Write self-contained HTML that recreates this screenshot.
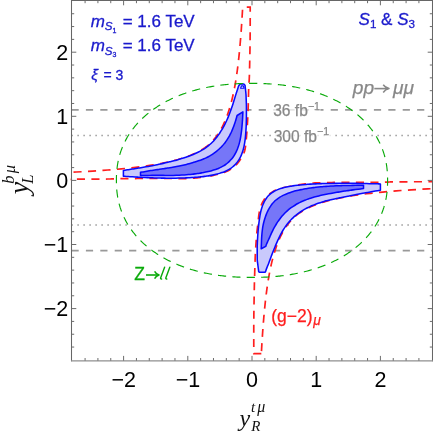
<!DOCTYPE html>
<html><head><meta charset="utf-8"><title>plot</title>
<style>
html,body{margin:0;padding:0;background:#fff;}
body{width:433px;height:434px;overflow:hidden;}
svg{display:block;will-change:transform;}
text{font-family:"Liberation Sans",sans-serif;}
.ser{font-family:"Liberation Serif",serif;font-style:italic;}
.it{font-style:italic;}
.bl{stroke:#1a1acc;stroke-width:0.3;}
</style></head><body>
<svg width="433" height="434" viewBox="0 0 433 434">
<rect width="433" height="434" fill="#fff"/>
<defs><clipPath id="cp"><rect x="70.3" y="0.5" width="363.4" height="360.2"/></clipPath></defs>
<g clip-path="url(#cp)">
<!-- pp->mumu limits -->
<g stroke="#999" fill="none">
<path d="M71.5 109.8 H432.5 M71.5 250.7 H432.5" stroke-width="1.8" stroke-dasharray="7.2 7.2"/>
<path d="M71.45 135.6 H432.5 M71.45 225.0 H432.5" stroke="#8c8c8c" stroke-width="1.5" stroke-dasharray="1.3 4.7"/>
</g>
<!-- g-2 -->
<g fill="none" stroke="#ff1e1e" stroke-width="1.7" stroke-dasharray="8 6.2">
<path d="M242.66 7.20 L242.35 12.82 L242.03 18.26 L241.69 23.52 L241.35 28.61 L240.99 33.53 L240.62 38.30 L240.24 42.91 L239.84 47.37 L239.44 51.68 L239.01 55.86 L238.58 59.90 L238.13 63.81 L237.66 67.59 L237.18 71.25 L236.69 74.79 L236.17 78.22 L235.64 81.53 L235.09 84.74 L234.53 87.84 L233.94 90.85 L233.34 93.75 L232.71 96.56 L232.06 99.28 L231.39 101.91 L230.70 104.46 L229.99 106.92 L229.25 109.35 L228.49 111.77 L227.70 114.11 L226.89 116.37 L226.04 118.56 L225.17 120.68 L224.27 122.73 L223.34 124.71 L222.38 126.63 L221.39 128.49 L220.36 130.29 L219.30 132.03 L218.21 133.71 L217.07 135.34 L215.90 136.91 L214.69 138.44 L213.44 139.91 L212.15 141.34 L210.81 142.72 L209.43 144.05 L208.00 145.34 L206.53 146.55 L205.00 147.65" stroke-dashoffset="11.7"/>
<path d="M242.66 7.20 L250.20 7.20 L250.20 8.78 L250.20 10.74 L250.20 13.04 L250.20 15.62 L250.20 18.43 L250.19 21.41 L250.19 24.52 L250.18 27.69 L250.17 30.88 L250.15 34.03 L250.13 37.09 L250.10 40.00 L250.06 42.91 L250.02 45.96 L249.97 49.12 L249.91 52.33 L249.85 55.56 L249.79 58.76 L249.72 61.89 L249.66 64.90 L249.59 67.77 L249.52 70.43 L249.46 72.86 L249.40 75.00 L249.34 76.82 L249.28 78.34 L249.22 79.60 L249.16 80.66 L249.10 81.56 L249.04 82.36 L248.98 83.10 L248.92 83.83 L248.86 84.61 L248.81 85.48 L248.75 86.50 L248.70 87.70 L248.65 89.06 L248.61 90.49 L248.57 91.99 L248.53 93.54 L248.50 95.13 L248.46 96.76 L248.43 98.40 L248.39 100.06 L248.35 101.72 L248.30 103.37 L248.26 105.00 L248.20 106.60 L248.14 108.17 L248.08 109.73 L248.03 111.28 L247.97 112.83 L247.90 114.38 L247.84 115.93 L247.77 117.49 L247.69 119.07 L247.60 120.66 L247.51 122.28 L247.41 123.93 L247.30 125.60 L247.18 127.35 L247.05 129.21 L246.91 131.14 L246.77 133.12 L246.61 135.11 L246.46 137.10 L246.29 139.05 L246.12 140.93 L245.95 142.71 L245.77 144.37 L245.59 145.87 L245.40 147.20 L245.22 148.33 L245.04 149.29 L244.86 150.11 L244.68 150.80 L244.50 151.40 L244.31 151.93 L244.10 152.41 L243.89 152.87 L243.65 153.34 L243.39 153.83 L243.11 154.38 L242.80 155.00 L242.46 155.68 L242.10 156.39 L241.71 157.11 L241.30 157.84 L240.87 158.57 L240.43 159.30 L239.98 160.02 L239.51 160.73 L239.04 161.42 L238.56 162.08 L238.08 162.71 L237.60 163.30 L237.11 163.86 L236.61 164.39 L236.10 164.90 L235.58 165.39 L235.05 165.86 L234.52 166.31 L233.98 166.74 L233.44 167.16 L232.90 167.56 L232.36 167.95 L231.83 168.33 L231.30 168.70 L230.80 169.05 L230.34 169.38 L229.90 169.68 L229.48 169.97 L229.05 170.24 L228.62 170.51 L228.16 170.76 L227.66 171.02 L227.10 171.28 L226.48 171.54 L225.79 171.81 L225.00 172.10 L224.10 172.40 L223.10 172.72 L222.02 173.05 L220.86 173.39 L219.65 173.72 L218.41 174.06 L217.15 174.38 L215.89 174.70 L214.64 175.01 L213.44 175.30 L212.28 175.56 L211.20 175.80 L210.18 176.01 L209.20 176.21 L208.24 176.38 L207.31 176.54 L206.40 176.69 L205.51 176.82 L204.61 176.94" stroke-dashoffset="10.1"/>
<path d="M261.34 353.70 L261.65 348.08 L261.97 342.64 L262.31 337.38 L262.65 332.29 L263.01 327.37 L263.38 322.60 L263.76 317.99 L264.16 313.53 L264.56 309.22 L264.99 305.04 L265.42 301.00 L265.87 297.09 L266.34 293.31 L266.82 289.65 L267.31 286.11 L267.83 282.68 L268.36 279.37 L268.91 276.16 L269.47 273.06 L270.06 270.05 L270.66 267.15 L271.29 264.34 L271.94 261.62 L272.61 258.99 L273.30 256.44 L274.01 253.98 L274.75 251.55 L275.51 249.13 L276.30 246.79 L277.11 244.53 L277.96 242.34 L278.83 240.22 L279.73 238.17 L280.66 236.19 L281.62 234.27 L282.61 232.41 L283.64 230.61 L284.70 228.87 L285.79 227.19 L286.93 225.56 L288.10 223.99 L289.31 222.46 L290.56 220.99 L291.85 219.56 L293.19 218.18 L294.57 216.85 L296.00 215.56 L297.47 214.35 L299.00 213.25" stroke-dashoffset="11.6"/>
<path d="M261.34 353.70 L253.80 353.70 L253.80 352.12 L253.79 350.16 L253.79 347.86 L253.78 345.28 L253.77 342.47 L253.77 339.49 L253.76 336.38 L253.76 333.21 L253.76 330.02 L253.77 326.87 L253.78 323.81 L253.80 320.90 L253.83 317.99 L253.86 314.94 L253.90 311.78 L253.95 308.57 L254.00 305.34 L254.05 302.14 L254.11 299.01 L254.16 296.00 L254.21 293.13 L254.26 290.47 L254.31 288.04 L254.35 285.90 L254.39 284.08 L254.42 282.56 L254.44 281.30 L254.47 280.24 L254.49 279.34 L254.52 278.54 L254.54 277.80 L254.57 277.07 L254.60 276.29 L254.63 275.42 L254.66 274.40 L254.70 273.20 L254.74 271.84 L254.78 270.41 L254.83 268.91 L254.87 267.36 L254.92 265.77 L254.97 264.14 L255.02 262.50 L255.08 260.84 L255.14 259.18 L255.20 257.53 L255.27 255.90 L255.35 254.30 L255.43 252.70 L255.52 251.06 L255.62 249.40 L255.72 247.73 L255.82 246.06 L255.93 244.39 L256.04 242.75 L256.15 241.15 L256.26 239.59 L256.38 238.09 L256.49 236.65 L256.60 235.30 L256.71 234.03 L256.83 232.82 L256.95 231.67 L257.07 230.57 L257.19 229.52 L257.31 228.51 L257.43 227.53 L257.55 226.58 L257.67 225.65 L257.78 224.73 L257.89 223.81 L258.00 222.90 L258.10 222.00 L258.19 221.12 L258.27 220.26 L258.36 219.43 L258.43 218.61 L258.51 217.81 L258.59 217.03 L258.68 216.26 L258.77 215.51 L258.87 214.76 L258.98 214.03 L259.10 213.30 L259.23 212.59 L259.35 211.90 L259.48 211.23 L259.60 210.58 L259.74 209.94 L259.88 209.31 L260.04 208.68 L260.21 208.06 L260.40 207.43 L260.61 206.80 L260.84 206.15 L261.10 205.50 L261.39 204.83 L261.70 204.13 L262.02 203.43 L262.37 202.71 L262.74 202.00 L263.12 201.29 L263.52 200.58 L263.94 199.90 L264.36 199.23 L264.80 198.59 L265.25 197.97 L265.70 197.40 L266.17 196.86 L266.66 196.34 L267.17 195.85 L267.70 195.38 L268.23 194.93 L268.78 194.49 L269.34 194.08 L269.89 193.68 L270.45 193.29 L271.01 192.92 L271.56 192.55 L272.10 192.20 L272.61 191.86 L273.09 191.55 L273.54 191.26 L273.97 190.99 L274.41 190.72 L274.86 190.48 L275.34 190.23 L275.86 189.99 L276.43 189.75 L277.07 189.51 L277.79 189.26 L278.60 189.00 L279.52 188.73 L280.56 188.45 L281.68 188.17 L282.87 187.88 L284.12 187.60 L285.41 187.31 L286.71 187.03" stroke-dashoffset="0"/>
<g stroke-dasharray="8.1 6.4">
<path d="M70.31 172.32 L76.21 172.02 L81.91 171.71 L87.43 171.40 L92.77 171.07 L97.93 170.73 L102.93 170.38 L107.77 170.02 L112.45 169.64 L116.98 169.26 L121.36 168.86 L125.59 168.45 L129.70 168.02 L133.66 167.58 L137.50 167.12 L141.22 166.65 L144.81 166.17 L148.29 165.66 L151.65 165.14 L154.91 164.61 L158.06 164.05 L161.11 163.48 L164.05 162.90 L166.91 162.31 L169.67 161.71 L172.34 161.08 L174.92 160.43 L177.42 159.76 L179.84 159.07 L182.18 158.35 L184.45 157.62 L186.64 156.85 L188.76 156.06 L190.81 155.25 L192.80 154.40 L194.72 153.53 L196.58 152.63 L198.38 151.70 L200.12 150.74 L201.80 149.74 L203.43 148.71 L205.00 147.65" stroke-dashoffset="11.3"/>
<path d="M69.80 179.40 L70.07 179.39 L70.28 179.38 L70.49 179.36 L70.71 179.35 L70.98 179.33 L71.34 179.31 L71.81 179.29 L72.42 179.27 L73.22 179.25 L74.22 179.24 L75.47 179.22 L77.00 179.20 L78.90 179.18 L81.22 179.17 L83.86 179.15 L86.76 179.14 L89.83 179.13 L93.01 179.11 L96.22 179.10 L99.38 179.08 L102.41 179.06 L105.24 179.04 L107.80 179.02 L110.00 179.00 L111.85 178.97 L113.43 178.94 L114.78 178.91 L115.96 178.87 L117.02 178.83 L118.00 178.79 L118.95 178.76 L119.93 178.72 L120.97 178.68 L122.13 178.65 L123.46 178.62 L125.00 178.60 L126.76 178.58 L128.68 178.56 L130.74 178.55 L132.89 178.54 L135.12 178.53 L137.38 178.52 L139.65 178.52 L141.90 178.51 L144.09 178.51 L146.19 178.51 L148.17 178.50 L150.00 178.50 L151.68 178.50 L153.24 178.49 L154.70 178.49 L156.09 178.49 L157.42 178.49 L158.71 178.49 L159.99 178.49 L161.28 178.50 L162.59 178.50 L163.95 178.50 L165.38 178.50 L166.90 178.50 L168.52 178.50 L170.24 178.51 L172.03 178.52 L173.86 178.54 L175.72 178.55 L177.59 178.56 L179.44 178.57 L181.25 178.57 L183.01 178.57 L184.68 178.56 L186.25 178.54 L187.70 178.50 L189.03 178.45 L190.25 178.40 L191.40 178.34 L192.47 178.27 L193.48 178.19 L194.45 178.11 L195.38 178.02 L196.30 177.92 L197.20 177.82 L198.11 177.72 L199.04 177.61 L200.00 177.50 L200.96 177.39 L201.90 177.28 L202.82 177.17 L203.72 177.06 L204.61 176.94" stroke-dashoffset="7.4"/>
<path d="M433.69 188.58 L427.79 188.88 L422.09 189.19 L416.57 189.50 L411.23 189.83 L406.07 190.17 L401.07 190.52 L396.23 190.88 L391.55 191.26 L387.02 191.64 L382.64 192.04 L378.41 192.45 L374.30 192.88 L370.34 193.32 L366.50 193.78 L362.78 194.25 L359.19 194.73 L355.71 195.24 L352.35 195.76 L349.09 196.29 L345.94 196.85 L342.89 197.42 L339.95 198.00 L337.09 198.59 L334.33 199.19 L331.66 199.82 L329.08 200.47 L326.58 201.14 L324.16 201.83 L321.82 202.55 L319.55 203.28 L317.36 204.05 L315.24 204.84 L313.19 205.65 L311.20 206.50 L309.28 207.37 L307.42 208.27 L305.62 209.20 L303.88 210.16 L302.20 211.16 L300.57 212.19 L299.00 213.25" stroke-dashoffset="11.3"/>
<path d="M434.20 181.50 L433.93 181.51 L433.72 181.52 L433.51 181.54 L433.29 181.55 L433.02 181.57 L432.66 181.59 L432.19 181.61 L431.58 181.63 L430.78 181.65 L429.78 181.66 L428.53 181.68 L427.00 181.70 L425.10 181.72 L422.78 181.73 L420.14 181.75 L417.24 181.76 L414.17 181.77 L410.99 181.79 L407.78 181.80 L404.62 181.82 L401.59 181.84 L398.76 181.86 L396.20 181.88 L394.00 181.90 L392.15 181.93 L390.57 181.96 L389.22 181.99 L388.04 182.03 L386.98 182.07 L386.00 182.11 L385.05 182.14 L384.07 182.18 L383.03 182.22 L381.87 182.25 L380.54 182.28 L379.00 182.30 L377.24 182.32 L375.32 182.34 L373.26 182.35 L371.11 182.36 L368.88 182.37 L366.62 182.38 L364.35 182.38 L362.10 182.39 L359.91 182.39 L357.81 182.39 L355.83 182.40 L354.00 182.40 L352.32 182.40 L350.76 182.40 L349.30 182.40 L347.91 182.39 L346.58 182.38 L345.29 182.38 L344.01 182.37 L342.72 182.37 L341.41 182.37 L340.05 182.37 L338.62 182.38 L337.10 182.40 L335.48 182.42 L333.76 182.45 L331.98 182.48 L330.14 182.51 L328.28 182.54 L326.41 182.58 L324.56 182.62 L322.75 182.67 L320.99 182.72 L319.32 182.78 L317.75 182.84 L316.30 182.90 L314.97 182.97 L313.75 183.04 L312.60 183.12 L311.53 183.20 L310.52 183.28 L309.55 183.37 L308.62 183.46 L307.70 183.56 L306.80 183.66 L305.89 183.77 L304.96 183.88 L304.00 184.00 L303.04 184.12 L302.10 184.24 L301.19 184.37 L300.30 184.50 L299.41 184.63 L298.52 184.77 L297.62 184.92 L296.71 185.07 L295.79 185.24 L294.83 185.41 L293.83 185.60 L292.80 185.80 L291.70 186.02 L290.52 186.25 L289.28 186.50 L288.00 186.76 L286.71 187.03" stroke-dashoffset="2.3"/>
</g>
</g>
<!-- blue regions -->
<g stroke="#0808ff" stroke-width="1.55" stroke-linejoin="round">
<path d="M123.40 170.40 C123.82 170.34 125.10 170.16 125.93 170.04 C126.77 169.92 127.58 169.80 128.41 169.67 C129.24 169.55 130.06 169.42 130.89 169.29 C131.72 169.16 132.55 169.04 133.38 168.91 C134.21 168.78 135.04 168.65 135.87 168.51 C136.71 168.38 137.53 168.25 138.36 168.11 C139.20 167.98 140.02 167.84 140.86 167.70 C141.70 167.56 142.55 167.42 143.39 167.28 C144.22 167.13 145.05 166.99 145.87 166.84 C146.70 166.69 147.51 166.54 148.32 166.39 C149.14 166.24 149.94 166.09 150.77 165.93 C151.60 165.77 152.46 165.60 153.30 165.44 C154.13 165.27 154.97 165.11 155.80 164.94 C156.63 164.77 157.45 164.60 158.27 164.43 C159.09 164.26 159.91 164.08 160.72 163.91 C161.54 163.73 162.35 163.55 163.15 163.38 C163.96 163.20 164.76 163.02 165.55 162.84 C166.35 162.65 167.14 162.47 167.92 162.28 C168.71 162.10 169.44 161.92 170.27 161.72 C171.09 161.52 172.00 161.29 172.86 161.08 C173.71 160.86 174.55 160.64 175.39 160.41 C176.22 160.19 177.04 159.96 177.85 159.73 C178.66 159.50 179.46 159.27 180.25 159.03 C181.04 158.80 181.82 158.56 182.59 158.31 C183.36 158.07 184.12 157.82 184.86 157.58 C185.61 157.33 186.31 157.09 187.07 156.82 C187.84 156.55 188.64 156.25 189.44 155.95 C190.23 155.66 191.05 155.34 191.83 155.02 C192.62 154.71 193.39 154.38 194.15 154.06 C194.91 153.73 195.65 153.40 196.38 153.06 C197.12 152.72 197.81 152.39 198.53 152.03 C199.26 151.66 200.02 151.27 200.75 150.87 C201.47 150.47 202.19 150.06 202.88 149.64 C203.58 149.22 204.25 148.79 204.92 148.35 C205.58 147.90 206.21 147.46 206.87 146.97 C207.52 146.49 208.21 145.95 208.85 145.41 C209.50 144.88 210.13 144.33 210.74 143.77 C211.35 143.20 211.94 142.62 212.53 142.03 C213.11 141.44 213.68 140.83 214.23 140.21 C214.79 139.58 215.33 138.94 215.86 138.29 C216.40 137.64 216.93 136.95 217.43 136.29 C217.93 135.63 218.38 135.00 218.85 134.33 C219.32 133.66 219.77 132.99 220.23 132.30 C220.68 131.61 221.12 130.91 221.56 130.19 C221.99 129.48 222.42 128.76 222.84 128.02 C223.26 127.28 223.68 126.52 224.08 125.77 C224.48 125.02 224.86 124.29 225.24 123.54 C225.61 122.78 225.98 122.01 226.35 121.22 C226.71 120.44 227.08 119.60 227.42 118.83 C227.75 118.06 228.06 117.32 228.36 116.59 C228.66 115.86 228.94 115.17 229.22 114.44 C229.50 113.72 229.78 112.99 230.05 112.25 C230.33 111.51 230.60 110.77 230.87 110.02 C231.13 109.27 231.40 108.53 231.66 107.76 C231.93 106.98 232.20 106.18 232.47 105.38 C232.73 104.58 232.99 103.77 233.25 102.95 C233.51 102.13 233.75 101.29 234.01 100.47 C234.26 99.66 234.51 98.85 234.76 98.04 C235.01 97.23 235.26 96.46 235.52 95.63 C235.78 94.80 236.05 93.88 236.32 93.05 C236.59 92.21 236.86 91.42 237.13 90.62 C237.39 89.82 237.66 89.03 237.91 88.24 C238.16 87.45 238.49 86.29 238.60 85.90 L240.20 84.00 L243.80 84.00 L245.00 85.20 C245.05 85.63 245.20 86.93 245.30 87.77 C245.40 88.62 245.49 89.51 245.58 90.29 C245.67 91.06 245.77 91.69 245.84 92.45 C245.91 93.20 245.97 93.96 246.02 94.82 C246.07 95.69 246.10 96.73 246.13 97.62 C246.17 98.50 246.20 99.34 246.23 100.15 C246.26 100.96 246.29 101.73 246.32 102.46 C246.35 103.20 246.38 103.83 246.40 104.59 C246.42 105.35 246.43 106.14 246.44 107.02 C246.44 107.90 246.44 108.96 246.43 109.89 C246.43 110.82 246.43 111.72 246.42 112.59 C246.42 113.47 246.42 114.31 246.41 115.14 C246.41 115.97 246.40 116.73 246.39 117.54 C246.38 118.36 246.37 119.21 246.35 120.02 C246.34 120.83 246.32 121.62 246.30 122.39 C246.28 123.16 246.27 123.83 246.24 124.64 C246.21 125.45 246.17 126.36 246.13 127.23 C246.08 128.09 246.04 128.95 245.98 129.84 C245.92 130.73 245.85 131.70 245.79 132.58 C245.72 133.47 245.65 134.31 245.58 135.13 C245.51 135.95 245.44 136.68 245.35 137.50 C245.27 138.32 245.16 139.21 245.05 140.06 C244.94 140.91 244.81 141.79 244.69 142.60 C244.56 143.42 244.43 144.19 244.29 144.93 C244.15 145.68 244.02 146.35 243.86 147.06 C243.70 147.77 243.57 148.36 243.34 149.19 C243.11 150.02 242.78 151.15 242.48 152.06 C242.18 152.97 241.86 153.82 241.52 154.64 C241.19 155.47 240.85 156.22 240.46 157.00 C240.08 157.77 239.65 158.56 239.22 159.29 C238.78 160.02 238.33 160.71 237.85 161.38 C237.38 162.05 236.90 162.67 236.37 163.29 C235.85 163.91 235.29 164.52 234.70 165.10 C234.12 165.68 233.50 166.23 232.86 166.76 C232.22 167.29 231.55 167.79 230.85 168.27 C230.16 168.75 229.39 169.21 228.69 169.62 C227.99 170.02 227.36 170.36 226.65 170.71 C225.95 171.05 225.22 171.38 224.46 171.70 C223.70 172.01 222.90 172.31 222.10 172.59 C221.30 172.87 220.43 173.14 219.65 173.38 C218.87 173.62 218.19 173.82 217.42 174.02 C216.66 174.22 215.87 174.42 215.06 174.60 C214.24 174.79 213.41 174.96 212.54 175.13 C211.67 175.30 210.77 175.46 209.84 175.61 C208.91 175.77 207.84 175.92 206.94 176.05 C206.05 176.18 205.31 176.28 204.46 176.39 C203.61 176.50 202.67 176.61 201.84 176.70 C201.02 176.79 200.30 176.87 199.53 176.95 C198.75 177.03 198.00 177.10 197.20 177.17 C196.39 177.24 195.56 177.31 194.69 177.37 C193.81 177.43 192.91 177.50 191.96 177.55 C191.01 177.61 189.99 177.67 188.99 177.72 C188.00 177.77 186.85 177.83 185.99 177.86 C185.14 177.90 184.63 177.92 183.88 177.95 C183.13 177.98 182.35 178.01 181.51 178.03 C180.68 178.06 179.80 178.08 178.86 178.10 C177.93 178.12 176.94 178.14 175.89 178.16 C174.84 178.18 173.49 178.20 172.56 178.21 C171.62 178.22 170.97 178.22 170.28 178.22 C169.60 178.22 169.11 178.21 168.46 178.20 C167.81 178.19 167.11 178.19 166.36 178.18 C165.62 178.17 164.82 178.16 163.99 178.14 C163.15 178.13 162.25 178.12 161.35 178.11 C160.44 178.09 159.35 178.08 158.56 178.06 C157.78 178.04 157.32 178.01 156.66 177.98 C156.00 177.96 155.30 177.93 154.59 177.90 C153.87 177.87 153.13 177.84 152.37 177.81 C151.60 177.78 150.82 177.75 150.01 177.71 C149.21 177.68 148.39 177.65 147.55 177.61 C146.72 177.58 145.87 177.55 145.01 177.51 C144.16 177.47 143.32 177.44 142.44 177.40 C141.56 177.36 140.56 177.33 139.73 177.29 C138.90 177.24 138.22 177.19 137.44 177.14 C136.66 177.09 135.86 177.04 135.04 176.99 C134.22 176.94 133.38 176.88 132.53 176.83 C131.67 176.77 130.80 176.72 129.91 176.66 C129.03 176.60 128.12 176.54 127.23 176.48 C126.35 176.42 125.26 176.34 124.62 176.30 C123.98 176.25 123.60 176.22 123.40 176.20 Z" fill="#c9c9fc"/>
<path d="M240.6 88.2 L241.5 85.9 L243.3 85.9 L244.1 88.2 Z" fill="#ececfe" stroke-width="1.1"/>
<path d="M140.50 172.30 C140.92 172.23 142.21 172.03 143.04 171.89 C143.88 171.75 144.68 171.60 145.52 171.46 C146.35 171.31 147.20 171.16 148.07 171.02 C148.95 170.87 149.89 170.72 150.76 170.58 C151.62 170.45 152.41 170.32 153.28 170.19 C154.15 170.06 155.06 169.93 155.97 169.80 C156.89 169.67 157.85 169.55 158.76 169.42 C159.67 169.29 160.63 169.15 161.42 169.03 C162.22 168.91 162.81 168.82 163.51 168.71 C164.21 168.60 164.91 168.49 165.61 168.38 C166.31 168.28 167.00 168.17 167.70 168.06 C168.41 167.95 169.00 167.85 169.82 167.72 C170.64 167.59 171.71 167.41 172.63 167.25 C173.56 167.10 174.46 166.94 175.35 166.77 C176.24 166.61 177.11 166.44 177.97 166.27 C178.83 166.10 179.67 165.93 180.50 165.75 C181.33 165.57 182.14 165.39 182.94 165.21 C183.75 165.03 184.54 164.84 185.32 164.66 C186.10 164.47 186.84 164.28 187.62 164.08 C188.41 163.88 189.20 163.68 190.01 163.46 C190.82 163.24 191.67 163.01 192.48 162.77 C193.29 162.54 194.08 162.31 194.87 162.07 C195.65 161.83 196.42 161.58 197.17 161.34 C197.93 161.09 198.64 160.85 199.39 160.58 C200.14 160.31 200.92 160.02 201.68 159.73 C202.43 159.44 203.20 159.13 203.93 158.81 C204.66 158.50 205.33 158.20 206.07 157.85 C206.80 157.50 207.59 157.11 208.34 156.71 C209.10 156.31 209.87 155.88 210.60 155.44 C211.33 155.01 212.03 154.56 212.73 154.10 C213.43 153.64 214.10 153.17 214.78 152.67 C215.45 152.17 216.12 151.65 216.77 151.12 C217.42 150.59 218.05 150.05 218.67 149.50 C219.28 148.94 219.88 148.38 220.47 147.79 C221.06 147.21 221.63 146.62 222.19 146.01 C222.75 145.40 223.30 144.77 223.83 144.13 C224.36 143.49 224.88 142.84 225.38 142.17 C225.89 141.50 226.38 140.81 226.85 140.10 C227.33 139.39 227.81 138.65 228.24 137.92 C228.68 137.20 229.10 136.47 229.49 135.76 C229.88 135.04 230.23 134.37 230.58 133.66 C230.94 132.94 231.28 132.21 231.62 131.46 C231.96 130.71 232.29 129.93 232.61 129.16 C232.93 128.38 233.23 127.58 233.52 126.80 C233.80 126.03 234.07 125.29 234.33 124.52 C234.60 123.75 234.87 122.97 235.13 122.18 C235.38 121.39 235.64 120.60 235.89 119.78 C236.14 118.97 236.42 118.00 236.62 117.28 C236.82 116.57 237.02 115.80 237.10 115.50 L242.90 111.90 C242.88 112.33 242.82 113.65 242.78 114.51 C242.74 115.36 242.70 116.20 242.66 117.02 C242.61 117.84 242.58 118.58 242.53 119.41 C242.48 120.25 242.41 121.15 242.34 122.02 C242.28 122.89 242.21 123.78 242.14 124.62 C242.07 125.47 242.00 126.30 241.93 127.11 C241.86 127.92 241.79 128.66 241.70 129.48 C241.62 130.30 241.50 131.19 241.39 132.00 C241.29 132.82 241.18 133.62 241.07 134.39 C240.96 135.17 240.86 135.88 240.73 136.65 C240.61 137.41 240.48 138.16 240.31 138.99 C240.15 139.82 239.93 140.79 239.72 141.64 C239.52 142.49 239.31 143.30 239.09 144.09 C238.87 144.87 238.67 145.58 238.42 146.35 C238.16 147.12 237.88 147.93 237.56 148.74 C237.24 149.54 236.87 150.41 236.51 151.19 C236.14 151.98 235.77 152.72 235.38 153.45 C234.98 154.18 234.57 154.88 234.12 155.58 C233.67 156.28 233.17 157.01 232.66 157.68 C232.16 158.35 231.64 158.99 231.09 159.60 C230.55 160.22 229.99 160.80 229.41 161.37 C228.82 161.94 228.21 162.48 227.58 163.00 C226.95 163.52 226.29 164.02 225.61 164.49 C224.93 164.97 224.22 165.42 223.48 165.86 C222.75 166.30 221.95 166.72 221.18 167.11 C220.41 167.49 219.60 167.86 218.87 168.18 C218.14 168.50 217.52 168.75 216.81 169.02 C216.10 169.29 215.36 169.55 214.60 169.80 C213.85 170.05 213.06 170.29 212.25 170.52 C211.44 170.75 210.61 170.98 209.74 171.19 C208.88 171.41 207.92 171.63 207.07 171.81 C206.22 172.00 205.48 172.16 204.64 172.32 C203.81 172.49 202.90 172.65 202.08 172.80 C201.26 172.94 200.53 173.07 199.74 173.19 C198.96 173.32 198.19 173.44 197.38 173.55 C196.56 173.67 195.73 173.78 194.87 173.89 C194.00 174.00 193.12 174.11 192.20 174.21 C191.28 174.31 190.30 174.41 189.34 174.50 C188.38 174.59 187.31 174.69 186.46 174.76 C185.61 174.83 185.02 174.87 184.24 174.92 C183.47 174.98 182.68 175.03 181.84 175.08 C181.00 175.12 180.12 175.17 179.20 175.21 C178.29 175.26 177.33 175.30 176.33 175.34 C175.32 175.38 174.07 175.43 173.18 175.45 C172.28 175.47 171.61 175.48 170.94 175.48 C170.27 175.48 169.76 175.47 169.14 175.46 C168.52 175.46 167.87 175.45 167.21 175.44 C166.55 175.43 165.86 175.42 165.18 175.41 C164.49 175.41 163.79 175.40 163.09 175.39 C162.38 175.38 161.75 175.37 160.93 175.37 C160.11 175.36 159.11 175.37 158.17 175.37 C157.22 175.37 156.23 175.37 155.27 175.37 C154.31 175.37 153.35 175.38 152.43 175.38 C151.50 175.39 150.56 175.39 149.70 175.40 C148.85 175.40 148.12 175.40 147.31 175.40 C146.49 175.40 145.66 175.40 144.81 175.40 C143.97 175.40 142.96 175.40 142.24 175.40 C141.52 175.40 140.79 175.40 140.50 175.40 Z" fill="#7676f8"/>
<path d="M258.70 271.60 C258.64 271.16 258.47 269.84 258.36 268.97 C258.25 268.11 258.14 267.22 258.04 266.38 C257.93 265.55 257.83 264.68 257.73 263.96 C257.64 263.25 257.55 262.68 257.48 262.11 C257.41 261.53 257.33 261.29 257.29 260.51 C257.25 259.73 257.26 258.39 257.24 257.43 C257.23 256.47 257.23 255.60 257.22 254.73 C257.22 253.87 257.21 253.04 257.21 252.24 C257.20 251.43 257.20 250.65 257.20 249.91 C257.20 249.17 257.19 248.60 257.20 247.78 C257.21 246.97 257.24 246.00 257.27 245.04 C257.31 244.07 257.36 242.97 257.40 242.00 C257.45 241.03 257.49 240.10 257.54 239.20 C257.59 238.29 257.64 237.43 257.69 236.59 C257.75 235.74 257.80 234.94 257.85 234.14 C257.91 233.34 257.96 232.63 258.03 231.78 C258.10 230.93 258.19 229.93 258.27 229.04 C258.35 228.15 258.43 227.31 258.52 226.44 C258.61 225.58 258.71 224.70 258.81 223.84 C258.91 222.97 259.02 222.08 259.13 221.24 C259.24 220.40 259.35 219.58 259.47 218.80 C259.58 218.01 259.70 217.24 259.82 216.51 C259.94 215.77 260.06 215.10 260.20 214.37 C260.34 213.63 260.47 212.95 260.66 212.11 C260.86 211.27 261.13 210.21 261.38 209.32 C261.63 208.44 261.89 207.60 262.16 206.79 C262.44 205.98 262.72 205.22 263.01 204.48 C263.31 203.75 263.57 203.12 263.93 202.38 C264.30 201.64 264.75 200.79 265.19 200.05 C265.63 199.32 266.09 198.62 266.58 197.97 C267.07 197.31 267.57 196.69 268.11 196.10 C268.65 195.50 269.21 194.95 269.80 194.41 C270.40 193.88 271.03 193.37 271.69 192.89 C272.35 192.42 273.05 191.97 273.78 191.54 C274.52 191.12 275.29 190.71 276.10 190.34 C276.90 189.96 277.84 189.59 278.59 189.29 C279.35 189.00 279.92 188.80 280.62 188.56 C281.32 188.33 282.05 188.11 282.82 187.90 C283.58 187.69 284.37 187.49 285.20 187.29 C286.03 187.10 286.88 186.91 287.78 186.74 C288.67 186.56 289.74 186.37 290.57 186.23 C291.41 186.08 292.03 185.99 292.78 185.87 C293.53 185.76 294.28 185.65 295.07 185.54 C295.86 185.44 296.68 185.34 297.52 185.24 C298.36 185.14 299.23 185.04 300.13 184.95 C301.03 184.86 301.95 184.77 302.92 184.69 C303.88 184.60 305.04 184.51 305.90 184.44 C306.77 184.37 307.34 184.33 308.09 184.28 C308.84 184.23 309.60 184.18 310.40 184.13 C311.20 184.08 312.02 184.03 312.87 183.99 C313.72 183.94 314.60 183.90 315.52 183.86 C316.43 183.81 317.41 183.77 318.35 183.73 C319.29 183.70 320.37 183.66 321.15 183.63 C321.93 183.61 322.38 183.60 323.03 183.58 C323.68 183.57 324.34 183.55 325.03 183.54 C325.71 183.53 326.42 183.51 327.14 183.50 C327.87 183.49 328.61 183.47 329.38 183.46 C330.14 183.45 330.92 183.44 331.72 183.43 C332.52 183.41 333.34 183.40 334.18 183.39 C335.02 183.38 335.88 183.37 336.76 183.36 C337.65 183.35 338.55 183.34 339.48 183.33 C340.41 183.32 341.36 183.31 342.35 183.30 C343.34 183.29 344.35 183.29 345.40 183.28 C346.45 183.27 347.58 183.26 348.65 183.26 C349.71 183.25 350.97 183.24 351.79 183.25 C352.61 183.25 352.95 183.28 353.57 183.29 C354.18 183.30 354.82 183.32 355.47 183.33 C356.12 183.35 356.80 183.36 357.49 183.38 C358.17 183.39 358.87 183.41 359.58 183.42 C360.29 183.44 360.99 183.46 361.75 183.47 C362.52 183.49 363.35 183.51 364.18 183.53 C365.01 183.55 365.87 183.57 366.73 183.59 C367.60 183.61 368.48 183.63 369.37 183.65 C370.26 183.67 371.16 183.69 372.07 183.71 C372.98 183.73 373.90 183.75 374.82 183.77 C375.75 183.79 376.69 183.82 377.62 183.84 C378.55 183.86 379.94 183.89 380.40 183.90 L380.40 190.30 C379.97 190.36 378.65 190.56 377.79 190.69 C376.94 190.82 376.09 190.96 375.25 191.10 C374.42 191.23 373.60 191.37 372.78 191.52 C371.95 191.66 371.14 191.81 370.32 191.95 C369.50 192.10 368.68 192.25 367.85 192.40 C367.02 192.55 366.18 192.70 365.34 192.86 C364.49 193.01 363.63 193.16 362.79 193.31 C361.94 193.47 361.09 193.62 360.24 193.78 C359.40 193.93 358.56 194.09 357.72 194.25 C356.88 194.41 356.04 194.58 355.21 194.74 C354.37 194.90 353.54 195.07 352.71 195.23 C351.89 195.39 351.09 195.56 350.27 195.72 C349.46 195.88 348.64 196.05 347.82 196.21 C347.00 196.38 346.18 196.54 345.36 196.71 C344.54 196.88 343.72 197.04 342.90 197.21 C342.08 197.38 341.26 197.55 340.45 197.71 C339.63 197.88 338.80 198.05 337.99 198.22 C337.19 198.39 336.41 198.55 335.62 198.72 C334.84 198.89 334.06 199.05 333.28 199.22 C332.51 199.39 331.74 199.56 330.98 199.73 C330.22 199.90 329.47 200.07 328.73 200.25 C327.99 200.42 327.31 200.59 326.55 200.78 C325.79 200.98 325.02 201.18 324.19 201.41 C323.37 201.63 322.45 201.90 321.61 202.15 C320.77 202.41 319.95 202.67 319.15 202.94 C318.35 203.20 317.56 203.48 316.79 203.76 C316.03 204.03 315.29 204.31 314.54 204.61 C313.79 204.91 313.07 205.21 312.29 205.55 C311.52 205.88 310.68 206.26 309.89 206.63 C309.11 207.00 308.35 207.38 307.59 207.76 C306.84 208.15 306.11 208.54 305.39 208.94 C304.66 209.34 303.97 209.74 303.26 210.17 C302.54 210.61 301.81 211.07 301.10 211.52 C300.40 211.98 299.71 212.45 299.03 212.93 C298.36 213.41 297.69 213.90 297.05 214.40 C296.40 214.90 295.77 215.41 295.14 215.93 C294.51 216.46 293.89 217.00 293.28 217.56 C292.67 218.12 292.07 218.70 291.48 219.29 C290.90 219.88 290.33 220.49 289.77 221.11 C289.21 221.73 288.66 222.37 288.13 223.01 C287.60 223.66 287.08 224.32 286.60 224.97 C286.11 225.62 285.67 226.24 285.22 226.90 C284.77 227.56 284.32 228.23 283.89 228.92 C283.46 229.60 283.03 230.30 282.62 231.01 C282.20 231.72 281.79 232.45 281.39 233.19 C280.98 233.93 280.58 234.69 280.20 235.44 C279.81 236.19 279.43 236.97 279.07 237.71 C278.71 238.45 278.38 239.16 278.03 239.90 C277.69 240.63 277.36 241.38 277.02 242.13 C276.69 242.88 276.36 243.63 276.03 244.39 C275.71 245.15 275.38 245.92 275.06 246.69 C274.74 247.45 274.43 248.21 274.12 248.96 C273.81 249.72 273.51 250.46 273.21 251.21 C272.91 251.95 272.60 252.69 272.31 253.45 C272.02 254.21 271.74 254.99 271.45 255.76 C271.17 256.52 270.90 257.23 270.61 258.04 C270.31 258.85 269.99 259.76 269.68 260.62 C269.37 261.47 269.04 262.36 268.73 263.18 C268.41 264.00 268.08 264.77 267.77 265.56 C267.46 266.34 267.15 267.08 266.85 267.87 C266.55 268.66 266.20 269.68 265.99 270.30 C265.78 270.92 265.67 271.38 265.60 271.60 L264.8 272.3 L259.4 272.3 Z" fill="#c9c9fc"/>
<path d="M261.20 248.80 C261.22 248.36 261.27 247.02 261.30 246.15 C261.33 245.28 261.36 244.43 261.40 243.59 C261.43 242.75 261.46 241.93 261.49 241.12 C261.52 240.30 261.54 239.57 261.58 238.71 C261.63 237.86 261.70 236.84 261.76 235.97 C261.83 235.10 261.89 234.26 261.96 233.47 C262.04 232.68 262.12 231.96 262.20 231.24 C262.29 230.52 262.37 229.83 262.46 229.16 C262.55 228.49 262.61 227.95 262.74 227.22 C262.86 226.48 263.00 225.66 263.20 224.75 C263.39 223.84 263.66 222.71 263.91 221.76 C264.15 220.80 264.41 219.89 264.67 219.01 C264.94 218.13 265.21 217.29 265.50 216.47 C265.78 215.66 266.07 214.89 266.38 214.12 C266.69 213.35 267.02 212.59 267.37 211.84 C267.71 211.09 268.08 210.35 268.45 209.64 C268.83 208.94 269.20 208.27 269.61 207.59 C270.02 206.92 270.44 206.27 270.92 205.60 C271.39 204.93 271.92 204.23 272.46 203.59 C273.00 202.94 273.55 202.33 274.14 201.74 C274.72 201.15 275.33 200.58 275.95 200.04 C276.58 199.51 277.20 199.02 277.86 198.54 C278.53 198.06 279.21 197.60 279.93 197.15 C280.65 196.71 281.45 196.26 282.18 195.88 C282.90 195.49 283.58 195.17 284.29 194.84 C284.99 194.51 285.69 194.21 286.42 193.92 C287.15 193.62 287.91 193.33 288.68 193.05 C289.45 192.77 290.24 192.50 291.01 192.25 C291.79 192.00 292.54 191.76 293.33 191.53 C294.12 191.30 294.93 191.08 295.77 190.86 C296.60 190.64 297.45 190.43 298.34 190.22 C299.22 190.02 300.12 189.82 301.05 189.62 C301.99 189.43 303.09 189.22 303.93 189.06 C304.78 188.91 305.38 188.80 306.14 188.67 C306.89 188.55 307.66 188.42 308.45 188.30 C309.25 188.18 310.08 188.06 310.90 187.95 C311.72 187.84 312.58 187.73 313.39 187.63 C314.20 187.53 314.95 187.44 315.76 187.35 C316.58 187.26 317.41 187.17 318.26 187.08 C319.11 187.00 319.98 186.91 320.88 186.83 C321.78 186.75 322.75 186.67 323.65 186.59 C324.55 186.52 325.47 186.45 326.28 186.39 C327.09 186.33 327.74 186.29 328.51 186.24 C329.27 186.19 330.05 186.14 330.85 186.10 C331.66 186.05 332.48 186.01 333.33 185.96 C334.18 185.92 335.05 185.88 335.95 185.83 C336.85 185.79 337.82 185.75 338.71 185.71 C339.61 185.68 340.53 185.64 341.31 185.62 C342.09 185.59 342.68 185.58 343.39 185.56 C344.09 185.54 344.81 185.53 345.55 185.51 C346.28 185.49 347.03 185.47 347.80 185.46 C348.57 185.44 349.37 185.43 350.19 185.41 C351.00 185.40 351.84 185.38 352.69 185.37 C353.54 185.36 354.41 185.34 355.28 185.33 C356.15 185.32 357.04 185.30 357.93 185.29 C358.83 185.27 359.74 185.26 360.64 185.25 C361.54 185.23 362.85 185.21 363.33 185.20 C363.81 185.19 363.47 185.20 363.50 185.20 L363.50 188.60 C363.04 188.65 361.66 188.80 360.76 188.91 C359.85 189.01 358.97 189.11 358.09 189.22 C357.21 189.33 356.35 189.44 355.49 189.55 C354.63 189.66 353.79 189.78 352.96 189.89 C352.12 190.01 351.30 190.13 350.47 190.25 C349.64 190.37 348.82 190.49 348.00 190.61 C347.17 190.73 346.34 190.85 345.51 190.97 C344.69 191.10 343.86 191.22 343.05 191.35 C342.24 191.47 341.44 191.60 340.63 191.73 C339.81 191.86 339.00 191.99 338.18 192.13 C337.36 192.27 336.53 192.41 335.71 192.55 C334.89 192.69 334.07 192.83 333.27 192.97 C332.46 193.11 331.66 193.26 330.86 193.40 C330.07 193.55 329.28 193.70 328.49 193.84 C327.71 193.99 326.96 194.14 326.17 194.30 C325.39 194.45 324.59 194.61 323.78 194.79 C322.96 194.96 322.09 195.14 321.27 195.33 C320.45 195.51 319.64 195.70 318.85 195.89 C318.05 196.08 317.27 196.27 316.51 196.47 C315.74 196.67 315.02 196.86 314.26 197.07 C313.49 197.29 312.72 197.51 311.92 197.76 C311.12 198.00 310.24 198.28 309.43 198.55 C308.63 198.82 307.84 199.10 307.07 199.38 C306.29 199.67 305.57 199.95 304.81 200.26 C304.04 200.57 303.28 200.89 302.50 201.24 C301.71 201.59 300.89 201.97 300.12 202.35 C299.35 202.73 298.60 203.12 297.86 203.52 C297.12 203.92 296.41 204.32 295.70 204.74 C294.99 205.17 294.30 205.60 293.60 206.05 C292.90 206.51 292.19 206.99 291.50 207.48 C290.82 207.97 290.15 208.47 289.50 208.98 C288.85 209.49 288.21 210.02 287.59 210.56 C286.97 211.09 286.36 211.64 285.77 212.21 C285.17 212.77 284.59 213.35 284.01 213.95 C283.44 214.55 282.88 215.16 282.33 215.79 C281.78 216.42 281.24 217.07 280.73 217.72 C280.21 218.37 279.72 219.02 279.24 219.68 C278.76 220.34 278.30 221.00 277.84 221.67 C277.39 222.35 276.94 223.05 276.51 223.74 C276.08 224.44 275.66 225.13 275.26 225.83 C274.85 226.53 274.46 227.22 274.07 227.93 C273.69 228.65 273.31 229.37 272.94 230.11 C272.57 230.85 272.22 231.62 271.86 232.38 C271.51 233.14 271.16 233.89 270.81 234.67 C270.46 235.45 270.10 236.26 269.74 237.06 C269.39 237.86 269.03 238.67 268.67 239.45 C268.32 240.24 267.96 240.98 267.61 241.75 C267.27 242.51 266.92 243.29 266.60 244.06 C266.28 244.84 265.85 246.01 265.70 246.40 Z" fill="#7676f8"/>
</g>
<!-- Z->ll -->
<path d="M387.60 180.40 L387.60 181.70 L387.58 182.85 L387.56 183.94 L387.52 184.99 L387.48 186.02 L387.43 187.04 L387.37 188.04 L387.30 189.02 L387.22 189.99 L387.13 190.95 L387.03 191.91 L386.92 192.85 L386.81 193.79 L386.68 194.71 L386.54 195.64 L386.40 196.55 L386.25 197.46 L386.08 198.36 L385.91 199.26 L385.73 200.15 L385.53 201.04 L385.33 201.92 L385.12 202.79 L384.90 203.66 L384.67 204.53 L384.44 205.39 L384.19 206.25 L383.93 207.10 L383.67 207.95 L383.39 208.79 L383.11 209.63 L382.82 210.46 L382.51 211.29 L382.20 212.11 L381.88 212.94 L381.55 213.75 L381.21 214.56 L380.87 215.37 L380.51 216.18 L380.14 216.97 L379.77 217.77 L379.39 218.56 L378.99 219.35 L378.59 220.13 L378.18 220.91 L377.76 221.68 L377.34 222.45 L376.90 223.22 L376.45 223.98 L376.00 224.73 L375.54 225.48 L375.06 226.23 L374.58 226.98 L374.09 227.71 L373.60 228.45 L373.09 229.18 L372.58 229.90 L372.05 230.63 L371.52 231.34 L370.98 232.05 L370.43 232.76 L369.87 233.46 L369.31 234.16 L368.73 234.86 L368.15 235.55 L367.56 236.23 L366.96 236.91 L366.35 237.59 L365.73 238.26 L365.11 238.92 L364.48 239.58 L363.84 240.24 L363.19 240.89 L362.53 241.53 L361.87 242.18 L361.19 242.81 L360.51 243.44 L359.82 244.07 L359.13 244.69 L358.42 245.31 L357.71 245.92 L356.99 246.52 L356.26 247.12 L355.53 247.72 L354.78 248.31 L354.03 248.90 L353.27 249.48 L352.51 250.05 L351.73 250.62 L350.95 251.18 L350.16 251.74 L349.37 252.30 L348.56 252.85 L347.75 253.39 L346.94 253.93 L346.11 254.46 L345.28 254.98 L344.44 255.50 L343.59 256.02 L342.74 256.53 L341.87 257.03 L341.01 257.53 L340.13 258.02 L339.25 258.51 L338.36 258.99 L337.46 259.47 L336.56 259.94 L335.65 260.40 L334.73 260.86 L333.81 261.31 L332.88 261.76 L331.94 262.20 L331.00 262.63 L330.05 263.06 L329.09 263.49 L328.13 263.90 L327.16 264.31 L326.18 264.72 L325.20 265.12 L324.21 265.51 L323.21 265.90 L322.21 266.28 L321.20 266.65 L320.19 267.02 L319.17 267.38 L318.14 267.74 L317.11 268.09 L316.07 268.43 L315.03 268.77 L313.97 269.10 L312.92 269.43 L311.85 269.75 L310.78 270.06 L309.71 270.36 L308.63 270.66 L307.54 270.96 L306.45 271.24 L305.35 271.52 L304.24 271.80 L303.13 272.07 L302.01 272.33 L300.89 272.58 L299.76 272.83 L298.62 273.07 L297.48 273.31 L296.33 273.54 L295.18 273.76 L294.02 273.98 L292.86 274.19 L291.68 274.39 L290.51 274.59 L289.32 274.78 L288.13 274.96 L286.93 275.14 L285.73 275.31 L284.52 275.47 L283.30 275.63 L282.08 275.78 L280.85 275.92 L279.61 276.06 L278.36 276.19 L277.11 276.31 L275.85 276.43 L274.58 276.54 L273.30 276.65 L272.01 276.74 L270.71 276.83 L269.40 276.92 L268.08 276.99 L266.75 277.06 L265.41 277.13 L264.05 277.19 L262.67 277.24 L261.28 277.28 L259.86 277.32 L258.42 277.35 L256.94 277.37 L255.42 277.39 L253.82 277.40 L252.00 277.40 L250.18 277.40 L248.58 277.39 L247.06 277.37 L245.58 277.35 L244.14 277.32 L242.72 277.28 L241.33 277.24 L239.95 277.19 L238.59 277.13 L237.25 277.06 L235.92 276.99 L234.60 276.92 L233.29 276.83 L231.99 276.74 L230.70 276.65 L229.42 276.54 L228.15 276.43 L226.89 276.31 L225.64 276.19 L224.39 276.06 L223.15 275.92 L221.92 275.78 L220.70 275.63 L219.48 275.47 L218.27 275.31 L217.07 275.14 L215.87 274.96 L214.68 274.78 L213.49 274.59 L212.32 274.39 L211.14 274.19 L209.98 273.98 L208.82 273.76 L207.67 273.54 L206.52 273.31 L205.38 273.07 L204.24 272.83 L203.11 272.58 L201.99 272.33 L200.87 272.07 L199.76 271.80 L198.65 271.52 L197.55 271.24 L196.46 270.96 L195.37 270.66 L194.29 270.36 L193.22 270.06 L192.15 269.75 L191.08 269.43 L190.03 269.10 L188.97 268.77 L187.93 268.43 L186.89 268.09 L185.86 267.74 L184.83 267.38 L183.81 267.02 L182.80 266.65 L181.79 266.28 L180.79 265.90 L179.79 265.51 L178.80 265.12 L177.82 264.72 L176.84 264.31 L175.87 263.90 L174.91 263.49 L173.95 263.06 L173.00 262.63 L172.06 262.20 L171.12 261.76 L170.19 261.31 L169.27 260.86 L168.35 260.40 L167.44 259.94 L166.54 259.47 L165.64 258.99 L164.75 258.51 L163.87 258.02 L162.99 257.53 L162.13 257.03 L161.26 256.53 L160.41 256.02 L159.56 255.50 L158.72 254.98 L157.89 254.46 L157.06 253.93 L156.25 253.39 L155.44 252.85 L154.63 252.30 L153.84 251.74 L153.05 251.18 L152.27 250.62 L151.49 250.05 L150.73 249.48 L149.97 248.90 L149.22 248.31 L148.47 247.72 L147.74 247.12 L147.01 246.52 L146.29 245.92 L145.58 245.31 L144.87 244.69 L144.18 244.07 L143.49 243.44 L142.81 242.81 L142.13 242.18 L141.47 241.53 L140.81 240.89 L140.16 240.24 L139.52 239.58 L138.89 238.92 L138.27 238.26 L137.65 237.59 L137.04 236.91 L136.44 236.23 L135.85 235.55 L135.27 234.86 L134.69 234.16 L134.13 233.46 L133.57 232.76 L133.02 232.05 L132.48 231.34 L131.95 230.63 L131.42 229.90 L130.91 229.18 L130.40 228.45 L129.91 227.71 L129.42 226.98 L128.94 226.23 L128.46 225.48 L128.00 224.73 L127.55 223.98 L127.10 223.22 L126.66 222.45 L126.24 221.68 L125.82 220.91 L125.41 220.13 L125.01 219.35 L124.61 218.56 L124.23 217.77 L123.86 216.97 L123.49 216.18 L123.13 215.37 L122.79 214.56 L122.45 213.75 L122.12 212.94 L121.80 212.11 L121.49 211.29 L121.18 210.46 L120.89 209.63 L120.61 208.79 L120.33 207.95 L120.07 207.10 L119.81 206.25 L119.56 205.39 L119.33 204.53 L119.10 203.66 L118.88 202.79 L118.67 201.92 L118.47 201.04 L118.27 200.15 L118.09 199.26 L117.92 198.36 L117.75 197.46 L117.60 196.55 L117.46 195.64 L117.32 194.71 L117.19 193.79 L117.08 192.85 L116.97 191.91 L116.87 190.95 L116.78 189.99 L116.70 189.02 L116.63 188.04 L116.57 187.04 L116.52 186.02 L116.48 184.99 L116.44 183.94 L116.42 182.85 L116.40 181.70 L116.40 180.40 L116.40 179.10 L116.42 177.95 L116.44 176.86 L116.48 175.81 L116.52 174.78 L116.57 173.76 L116.63 172.76 L116.70 171.78 L116.78 170.81 L116.87 169.85 L116.97 168.89 L117.08 167.95 L117.19 167.01 L117.32 166.09 L117.46 165.16 L117.60 164.25 L117.75 163.34 L117.92 162.44 L118.09 161.54 L118.27 160.65 L118.47 159.76 L118.67 158.88 L118.88 158.01 L119.10 157.14 L119.33 156.27 L119.56 155.41 L119.81 154.55 L120.07 153.70 L120.33 152.85 L120.61 152.01 L120.89 151.17 L121.18 150.34 L121.49 149.51 L121.80 148.69 L122.12 147.86 L122.45 147.05 L122.79 146.24 L123.13 145.43 L123.49 144.62 L123.86 143.83 L124.23 143.03 L124.61 142.24 L125.01 141.45 L125.41 140.67 L125.82 139.89 L126.24 139.12 L126.66 138.35 L127.10 137.58 L127.55 136.82 L128.00 136.07 L128.46 135.32 L128.94 134.57 L129.42 133.82 L129.91 133.09 L130.40 132.35 L130.91 131.62 L131.42 130.90 L131.95 130.17 L132.48 129.46 L133.02 128.75 L133.57 128.04 L134.13 127.34 L134.69 126.64 L135.27 125.94 L135.85 125.25 L136.44 124.57 L137.04 123.89 L137.65 123.21 L138.27 122.54 L138.89 121.88 L139.52 121.22 L140.16 120.56 L140.81 119.91 L141.47 119.27 L142.13 118.62 L142.81 117.99 L143.49 117.36 L144.18 116.73 L144.87 116.11 L145.58 115.49 L146.29 114.88 L147.01 114.28 L147.74 113.68 L148.47 113.08 L149.22 112.49 L149.97 111.90 L150.73 111.32 L151.49 110.75 L152.27 110.18 L153.05 109.62 L153.84 109.06 L154.63 108.50 L155.44 107.95 L156.25 107.41 L157.06 106.87 L157.89 106.34 L158.72 105.82 L159.56 105.30 L160.41 104.78 L161.26 104.27 L162.13 103.77 L162.99 103.27 L163.87 102.78 L164.75 102.29 L165.64 101.81 L166.54 101.33 L167.44 100.86 L168.35 100.40 L169.27 99.94 L170.19 99.49 L171.12 99.04 L172.06 98.60 L173.00 98.17 L173.95 97.74 L174.91 97.31 L175.87 96.90 L176.84 96.49 L177.82 96.08 L178.80 95.68 L179.79 95.29 L180.79 94.90 L181.79 94.52 L182.80 94.15 L183.81 93.78 L184.83 93.42 L185.86 93.06 L186.89 92.71 L187.93 92.37 L188.97 92.03 L190.03 91.70 L191.08 91.37 L192.15 91.05 L193.22 90.74 L194.29 90.44 L195.37 90.14 L196.46 89.84 L197.55 89.56 L198.65 89.28 L199.76 89.00 L200.87 88.73 L201.99 88.47 L203.11 88.22 L204.24 87.97 L205.38 87.73 L206.52 87.49 L207.67 87.26 L208.82 87.04 L209.98 86.82 L211.14 86.61 L212.32 86.41 L213.49 86.21 L214.68 86.02 L215.87 85.84 L217.07 85.66 L218.27 85.49 L219.48 85.33 L220.70 85.17 L221.92 85.02 L223.15 84.88 L224.39 84.74 L225.64 84.61 L226.89 84.49 L228.15 84.37 L229.42 84.26 L230.70 84.15 L231.99 84.06 L233.29 83.97 L234.60 83.88 L235.92 83.81 L237.25 83.74 L238.59 83.67 L239.95 83.61 L241.33 83.56 L242.72 83.52 L244.14 83.48 L245.58 83.45 L247.06 83.43 L248.58 83.41 L250.18 83.40 L252.00 83.40 L253.82 83.40 L255.42 83.41 L256.94 83.43 L258.42 83.45 L259.86 83.48 L261.28 83.52 L262.67 83.56 L264.05 83.61 L265.41 83.67 L266.75 83.74 L268.08 83.81 L269.40 83.88 L270.71 83.97 L272.01 84.06 L273.30 84.15 L274.58 84.26 L275.85 84.37 L277.11 84.49 L278.36 84.61 L279.61 84.74 L280.85 84.88 L282.08 85.02 L283.30 85.17 L284.52 85.33 L285.73 85.49 L286.93 85.66 L288.13 85.84 L289.32 86.02 L290.51 86.21 L291.68 86.41 L292.86 86.61 L294.02 86.82 L295.18 87.04 L296.33 87.26 L297.48 87.49 L298.62 87.73 L299.76 87.97 L300.89 88.22 L302.01 88.47 L303.13 88.73 L304.24 89.00 L305.35 89.28 L306.45 89.56 L307.54 89.84 L308.63 90.14 L309.71 90.44 L310.78 90.74 L311.85 91.05 L312.92 91.37 L313.97 91.70 L315.03 92.03 L316.07 92.37 L317.11 92.71 L318.14 93.06 L319.17 93.42 L320.19 93.78 L321.20 94.15 L322.21 94.52 L323.21 94.90 L324.21 95.29 L325.20 95.68 L326.18 96.08 L327.16 96.49 L328.13 96.90 L329.09 97.31 L330.05 97.74 L331.00 98.17 L331.94 98.60 L332.88 99.04 L333.81 99.49 L334.73 99.94 L335.65 100.40 L336.56 100.86 L337.46 101.33 L338.36 101.81 L339.25 102.29 L340.13 102.78 L341.01 103.27 L341.87 103.77 L342.74 104.27 L343.59 104.78 L344.44 105.30 L345.28 105.82 L346.11 106.34 L346.94 106.87 L347.75 107.41 L348.56 107.95 L349.37 108.50 L350.16 109.06 L350.95 109.62 L351.73 110.18 L352.51 110.75 L353.27 111.32 L354.03 111.90 L354.78 112.49 L355.53 113.08 L356.26 113.68 L356.99 114.28 L357.71 114.88 L358.42 115.49 L359.13 116.11 L359.82 116.73 L360.51 117.36 L361.19 117.99 L361.87 118.62 L362.53 119.27 L363.19 119.91 L363.84 120.56 L364.48 121.22 L365.11 121.88 L365.73 122.54 L366.35 123.21 L366.96 123.89 L367.56 124.57 L368.15 125.25 L368.73 125.94 L369.31 126.64 L369.87 127.34 L370.43 128.04 L370.98 128.75 L371.52 129.46 L372.05 130.17 L372.58 130.90 L373.09 131.62 L373.60 132.35 L374.09 133.09 L374.58 133.82 L375.06 134.57 L375.54 135.32 L376.00 136.07 L376.45 136.82 L376.90 137.58 L377.34 138.35 L377.76 139.12 L378.18 139.89 L378.59 140.67 L378.99 141.45 L379.39 142.24 L379.77 143.03 L380.14 143.83 L380.51 144.62 L380.87 145.43 L381.21 146.24 L381.55 147.05 L381.88 147.86 L382.20 148.69 L382.51 149.51 L382.82 150.34 L383.11 151.17 L383.39 152.01 L383.67 152.85 L383.93 153.70 L384.19 154.55 L384.44 155.41 L384.67 156.27 L384.90 157.14 L385.12 158.01 L385.33 158.88 L385.53 159.76 L385.73 160.65 L385.91 161.54 L386.08 162.44 L386.25 163.34 L386.40 164.25 L386.54 165.16 L386.68 166.09 L386.81 167.01 L386.92 167.95 L387.03 168.89 L387.13 169.85 L387.22 170.81 L387.30 171.78 L387.37 172.76 L387.43 173.76 L387.48 174.78 L387.52 175.81 L387.56 176.86 L387.58 177.95 L387.60 179.10 L387.60 180.40" fill="none" stroke="#0aaa0a" stroke-width="1.15" stroke-dasharray="8.2 6.197" stroke-dashoffset="2.9"/>
</g>
<!-- frame -->
<path d="M71.5 0 V361.3 M432.5 0 V361.3 M71.0 0.5 H433.0" stroke="#666" stroke-width="1.05" fill="none"/>
<path d="M71.0 360.75 H433.0" stroke="#8f8f8f" stroke-width="1.25" fill="none"/>
<path d="M85.08 360.70 v-2.70 M85.08 0.50 v2.70 M71.50 347.06 h2.70 M432.50 347.06 h-2.70 M97.92 360.70 v-2.70 M97.92 0.50 v2.70 M71.50 334.24 h2.70 M432.50 334.24 h-2.70 M110.76 360.70 v-2.70 M110.76 0.50 v2.70 M71.50 321.42 h2.70 M432.50 321.42 h-2.70 M123.60 360.70 v-4.80 M123.60 0.50 v4.80 M71.50 308.60 h4.80 M432.50 308.60 h-4.80 M136.44 360.70 v-2.70 M136.44 0.50 v2.70 M71.50 295.78 h2.70 M432.50 295.78 h-2.70 M149.28 360.70 v-2.70 M149.28 0.50 v2.70 M71.50 282.96 h2.70 M432.50 282.96 h-2.70 M162.12 360.70 v-2.70 M162.12 0.50 v2.70 M71.50 270.14 h2.70 M432.50 270.14 h-2.70 M174.96 360.70 v-2.70 M174.96 0.50 v2.70 M71.50 257.32 h2.70 M432.50 257.32 h-2.70 M187.80 360.70 v-4.80 M187.80 0.50 v4.80 M71.50 244.50 h4.80 M432.50 244.50 h-4.80 M200.64 360.70 v-2.70 M200.64 0.50 v2.70 M71.50 231.68 h2.70 M432.50 231.68 h-2.70 M213.48 360.70 v-2.70 M213.48 0.50 v2.70 M71.50 218.86 h2.70 M432.50 218.86 h-2.70 M226.32 360.70 v-2.70 M226.32 0.50 v2.70 M71.50 206.04 h2.70 M432.50 206.04 h-2.70 M239.16 360.70 v-2.70 M239.16 0.50 v2.70 M71.50 193.22 h2.70 M432.50 193.22 h-2.70 M252.00 360.70 v-4.80 M252.00 0.50 v4.80 M71.50 180.40 h4.80 M432.50 180.40 h-4.80 M264.84 360.70 v-2.70 M264.84 0.50 v2.70 M71.50 167.58 h2.70 M432.50 167.58 h-2.70 M277.68 360.70 v-2.70 M277.68 0.50 v2.70 M71.50 154.76 h2.70 M432.50 154.76 h-2.70 M290.52 360.70 v-2.70 M290.52 0.50 v2.70 M71.50 141.94 h2.70 M432.50 141.94 h-2.70 M303.36 360.70 v-2.70 M303.36 0.50 v2.70 M71.50 129.12 h2.70 M432.50 129.12 h-2.70 M316.20 360.70 v-4.80 M316.20 0.50 v4.80 M71.50 116.30 h4.80 M432.50 116.30 h-4.80 M329.04 360.70 v-2.70 M329.04 0.50 v2.70 M71.50 103.48 h2.70 M432.50 103.48 h-2.70 M341.88 360.70 v-2.70 M341.88 0.50 v2.70 M71.50 90.66 h2.70 M432.50 90.66 h-2.70 M354.72 360.70 v-2.70 M354.72 0.50 v2.70 M71.50 77.84 h2.70 M432.50 77.84 h-2.70 M367.56 360.70 v-2.70 M367.56 0.50 v2.70 M71.50 65.02 h2.70 M432.50 65.02 h-2.70 M380.40 360.70 v-4.80 M380.40 0.50 v4.80 M71.50 52.20 h4.80 M432.50 52.20 h-4.80 M393.24 360.70 v-2.70 M393.24 0.50 v2.70 M71.50 39.38 h2.70 M432.50 39.38 h-2.70 M406.08 360.70 v-2.70 M406.08 0.50 v2.70 M71.50 26.56 h2.70 M432.50 26.56 h-2.70 M418.92 360.70 v-2.70 M418.92 0.50 v2.70 M71.50 13.74 h2.70 M432.50 13.74 h-2.70" stroke="#6c6c6c" stroke-width="1" fill="none"/>
<!-- tick labels -->
<g font-size="21.5" fill="#000"><text x="123.8" y="386.5" text-anchor="middle">−2</text><text x="188.0" y="386.5" text-anchor="middle">−1</text><text x="252.0" y="386.5" text-anchor="middle">0</text><text x="316.2" y="386.5" text-anchor="middle">1</text><text x="380.4" y="386.5" text-anchor="middle">2</text><text x="68.2" y="315.9" text-anchor="end">−2</text><text x="68.2" y="251.8" text-anchor="end">−1</text><text x="68.2" y="187.7" text-anchor="end">0</text><text x="68.2" y="123.6" text-anchor="end">1</text><text x="68.2" y="59.5" text-anchor="end">2</text></g>
<!-- labels -->
<g fill="#1a1acc" font-size="17" class="bl">
<text x="90.7" y="26.5"><tspan class="it">m</tspan><tspan class="it" font-size="11.6" dy="3.9">S</tspan><tspan font-size="7" dy="2.3">1</tspan></text>
<text x="122.7" y="26.5">= 1.6 TeV</text>
<text x="90.7" y="50.6"><tspan class="it">m</tspan><tspan class="it" font-size="11.6" dy="3.9">S</tspan><tspan font-size="7" dy="2.3">3</tspan></text>
<text x="122.7" y="50.6">= 1.6 TeV</text>
<text x="91.2" y="80.1" font-size="15.2" class="it">ξ</text>
<text x="103.5" y="79.7" font-size="14">= 3</text>
<text x="358.6" y="25.2"><tspan class="it">S</tspan><tspan font-size="11.6" dy="3.2">1</tspan><tspan dy="-3.2"> &amp; </tspan><tspan class="it">S</tspan><tspan font-size="11.6" dy="3.2">3</tspan></text>
</g>
<g fill="#888" stroke="#888" stroke-width="0.25">
<text x="352.8" y="93.8" font-size="19.2" class="it">pp</text>
<text x="392.9" y="93.8" font-size="19.2" class="it">μμ</text>
<path d="M374.3 88.6 H387.8" stroke-width="1.6" fill="none"/>
<path d="M383.2 84.7 Q385.2 87.6 389 88.6 Q385.2 89.6 383.2 92.5" stroke-width="1.5" fill="none" stroke-linejoin="round"/>
<rect x="271" y="102" width="49.5" height="16" fill="#fff" fill-opacity="0.75" stroke="none"/>
<rect x="272" y="127" width="59" height="16" fill="#fff" fill-opacity="0.75" stroke="none"/>
<text x="273.2" y="116.4" font-size="15.6">36 fb<tspan font-size="10.6" dy="-6.4">−1</tspan></text>
<text x="273.7" y="141.5" font-size="15.6">300 fb<tspan font-size="10.6" dy="-6.4">−1</tspan></text>
</g>
<g fill="#0aaa0a" stroke="#0aaa0a">
<text x="134.2" y="279.6" font-size="17.5" stroke-width="0.3">Z</text>
<path d="M146 275 H157.6" stroke-width="1.6" fill="none"/>
<path d="M154.6 271.3 Q156 273.9 159 275 Q156 276.1 154.6 278.7" stroke-width="1.5" fill="none" stroke-linejoin="round"/>
<path d="M164.6 267.2 L160.6 278 Q160.4 279.2 161.6 279 M169.8 267.2 L165.8 278 Q165.6 279.2 166.8 279" stroke-width="1.4" fill="none" stroke-linecap="round"/>
</g>
<text x="271.3" y="322.4" font-size="17.5" fill="#ff1e1e" stroke="#ff1e1e" stroke-width="0.25">(g−2)<tspan class="it" font-size="13.8" dy="3" dx="0.6">μ</tspan></text>
<!-- axis labels -->
<text class="ser" x="239.6" y="425.6" font-size="24" fill="#111">y</text>
<text class="ser" x="251.2" y="430.8" font-size="15" fill="#111">R</text>
<text class="ser" x="251" y="411.8" font-size="15" fill="#111">t<tspan dx="2" font-size="16">μ</tspan></text>
<g transform="translate(27.5,194.2) rotate(-90)" fill="#111">
<text class="ser" x="0" y="0" font-size="28">y<tspan font-size="16.6" dy="5.8" dx="-2">L</tspan></text>
<text class="ser" x="10.5" y="-14" font-size="16.6">b<tspan dx="2.1" dy="1.2">μ</tspan></text>
</g>
</svg>
</body></html>
